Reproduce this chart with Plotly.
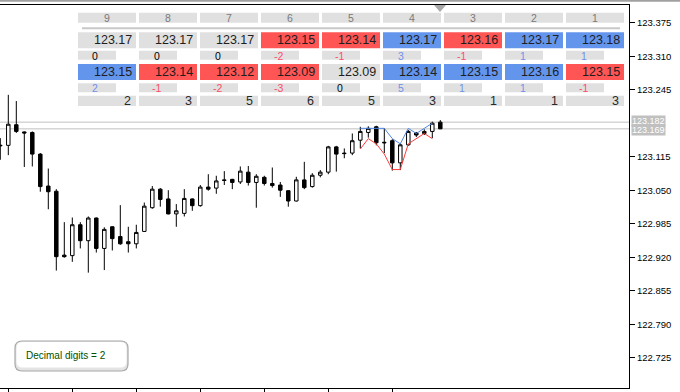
import plotly.graph_objects as go

# ---------------- data ----------------
opens = [123.136, 123.137, 123.177, 123.163, 123.162, 123.120, 123.058, 123.048, 122.924, 122.923,
         122.983, 122.952, 122.996, 122.937, 122.979, 122.960, 122.950, 122.946, 122.970, 123.016,
         123.052, 123.033, 123.004, 123.005, 123.033, 123.020, 123.056, 123.054, 123.070, 123.071,
         123.066, 123.085, 123.065, 123.075, 123.063, 123.060, 123.049, 123.029, 123.070, 123.057,
         123.079, 123.085, 123.134, 123.122, 123.122, 123.147, 123.162, 123.173, 123.143, 123.146,
         123.103, 123.138, 123.161, 123.160, 123.164, 123.182]
highs = [123.151, 123.235, 123.223, 123.164, 123.164, 123.122, 123.092, 123.052, 122.988, 122.997,
         122.988, 122.999, 122.997, 122.978, 122.980, 123.021, 122.979, 122.983, 123.026, 123.058,
         123.054, 123.050, 123.023, 123.052, 123.034, 123.060, 123.081, 123.078, 123.087, 123.072,
         123.096, 123.097, 123.081, 123.078, 123.094, 123.066, 123.050, 123.076, 123.105, 123.083,
         123.089, 123.136, 123.136, 123.131, 123.160, 123.173, 123.174, 123.175, 123.170, 123.149,
         123.141, 123.167, 123.163, 123.168, 123.183, 123.186]
lows = [123.109, 123.118, 123.161, 123.095, 123.096, 123.047, 123.013, 122.894, 122.919, 122.911,
        122.937, 122.890, 122.929, 122.895, 122.933, 122.944, 122.929, 122.937, 122.969, 123.014,
        123.018, 123.003, 122.979, 122.999, 123.010, 123.018, 123.049, 123.043, 123.060, 123.052,
        123.062, 123.059, 123.016, 123.059, 123.055, 123.037, 123.018, 123.028, 123.052, 123.055,
        123.075, 123.081, 123.086, 123.112, 123.118, 123.131, 123.152, 123.137, 123.122, 123.088,
        123.089, 123.136, 123.153, 123.157, 123.151, 123.169]
closes = [123.137, 123.178, 123.164, 123.161, 123.120, 123.057, 123.047, 122.921, 122.921, 122.983,
          122.952, 122.996, 122.937, 122.974, 122.956, 122.946, 122.946, 122.968, 123.019, 123.052,
          123.032, 123.004, 123.010, 123.034, 123.020, 123.056, 123.052, 123.068, 123.069, 123.065,
          123.087, 123.065, 123.077, 123.063, 123.059, 123.050, 123.029, 123.070, 123.055, 123.079,
          123.085, 123.134, 123.120, 123.121, 123.146, 123.164, 123.170, 123.142, 123.142, 123.103,
          123.138, 123.164, 123.157, 123.164, 123.180, 123.169]

ask_price = 123.182
bid_price = 123.169

# table, bars 9 .. 1 (bars back from the current bar)
bar_labels = ["9", "8", "7", "6", "5", "4", "3", "2", "1"]
high_vals = [123.17, 123.17, 123.17, 123.15, 123.14, 123.17, 123.16, 123.17, 123.18]
high_delta = [0, 0, 0, -2, -1, 3, -1, 1, 1]
low_vals = [123.15, 123.14, 123.12, 123.09, 123.09, 123.14, 123.15, 123.16, 123.15]
low_delta = [2, -1, -2, -3, 0, 5, 1, 1, -1]
range_vals = [2, 3, 5, 6, 5, 3, 1, 1, 3]

# rounded high / low lines, bars 10 .. 1
line_bars = [10, 9, 8, 7, 6, 5, 4, 3, 2, 1]
line_high = [123.17, 123.17, 123.17, 123.17, 123.15, 123.14, 123.17, 123.16, 123.17, 123.18]
line_low = [123.13, 123.15, 123.14, 123.12, 123.09, 123.09, 123.14, 123.15, 123.16, 123.15]

y_tick_vals = [123.375, 123.310, 123.245, 123.115, 123.050, 122.985, 122.920, 122.855, 122.790, 122.725]
y_tick_text = ["123.375", "123.310", "123.245", "123.115", "123.050", "122.985", "122.920",
               "122.855", "122.790", "122.725"]

info_text = "Decimal digits = 2"

# ---------------- geometry helpers (pixels -> paper) ----------------
W, H = 680, 392
ML, MR, MT, MB = 0, 51, 5, 4
PW = W - ML - MR
PH = H - MT - MB


def px(x):
    return (x - ML) / PW


def py(y):
    return (H - MB - y) / PH


n = len(opens)
xs = list(range(n))
bar_x = lambda b: n - 1 - b

RED = "#ff5555"
BLUE = "#6495ed"
GRAY = "#e0e0e0"


def box_color(d):
    return RED if d < 0 else (BLUE if d > 0 else GRAY)


def delta_color(d):
    return "#ff4d66" if d < 0 else ("#7090e8" if d > 0 else "#000000")


fig = go.Figure()

fig.add_trace(go.Candlestick(
    x=xs, open=opens, high=highs, low=lows, close=closes,
    increasing=dict(line=dict(color="black", width=1), fillcolor="white"),
    decreasing=dict(line=dict(color="black", width=1), fillcolor="black"),
    whiskerwidth=0, hoverinfo="skip", showlegend=False,
))

lx = [bar_x(b) for b in line_bars]
fig.add_trace(go.Scatter(x=lx, y=line_high, mode="lines",
                         line=dict(color="#4f86e6", width=1), hoverinfo="skip", showlegend=False))
fig.add_trace(go.Scatter(x=lx, y=line_low, mode="lines",
                         line=dict(color="#ff3b3b", width=1), hoverinfo="skip", showlegend=False))

shapes = []
annotations = []

# bid / ask lines
for p in (ask_price, bid_price):
    shapes.append(dict(type="line", xref="paper", yref="y", x0=0, x1=1, y0=p, y1=p,
                       line=dict(color="#c0c0c0", width=1), layer="below"))
for p, ys in ((ask_price, 1), (bid_price, -1)):
    annotations.append(dict(xref="paper", yref="y", x=1, y=p, xanchor="left", yanchor="middle",
                            xshift=2, yshift=ys, text=f"{p:.3f}", showarrow=False, bgcolor="#c0c0c0",
                            borderpad=0, font=dict(family="Liberation Sans", size=9, color="white")))

# window top border & shift marker
shapes.append(dict(type="line", xref="paper", yref="paper", x0=0, x1=px(W), y0=py(0.8), y1=py(0.8),
                   line=dict(color="#a0a0a0", width=2)))
shapes.append(dict(type="path", xref="paper", yref="paper",
                   path=f"M{px(434)},{py(5)} L{px(446)},{py(5)} L{px(440)},{py(12)} Z",
                   fillcolor="#a8a8a8", line=dict(width=0)))

# separator line of the table
shapes.append(dict(type="line", xref="paper", yref="paper", x0=px(82), x1=px(620), y0=py(28.3), y1=py(28.3),
                   line=dict(color="#c8c8c8", width=2)))

COL0, COLSTEP, COLW, DW = 78, 61, 58, 38


def rect(x0, y0, x1, y1, color):
    shapes.append(dict(type="rect", xref="paper", yref="paper", x0=px(x0), x1=px(x1),
                       y0=py(y1), y1=py(y0), fillcolor=color, line=dict(width=0), layer="above"))


def text(x, y, s, size, color, anchor):
    annotations.append(dict(xref="paper", yref="paper", x=px(x), y=py(y), xanchor=anchor,
                            yanchor="middle", text=s, showarrow=False, borderpad=0,
                            font=dict(family="Liberation Sans", size=size, color=color)))


for k in range(len(bar_labels)):
    left = COL0 + COLSTEP * k
    right = left + COLW
    rect(left, 12.7, right, 22.7, GRAY)
    text((left + right) / 2, 17.8, bar_labels[k], 10.5, "#7a7a7a", "center")

    rect(left, 32.3, right, 48.3, box_color(high_delta[k]))
    text(right - 3, 40.5, f"{high_vals[k]:.2f}", 12.5, "#1e1e1e", "right")
    rect(left, 50.7, left + DW, 59.7, GRAY)
    text(left + 17.5, 55.5, str(high_delta[k]), 10.5, delta_color(high_delta[k]), "center")

    rect(left, 64, right, 80, box_color(low_delta[k]))
    text(right - 3, 72.2, f"{low_vals[k]:.2f}", 12.5, "#1e1e1e", "right")
    rect(left, 83.3, left + DW, 92.3, GRAY)
    text(left + 17.5, 88, str(low_delta[k]), 10.5, delta_color(low_delta[k]), "center")

    rect(left, 95.7, right, 106, GRAY)
    text(right - 4, 101, str(range_vals[k]), 12.5, "#2a2a2a", "right")

# "Decimal digits" rounded box


def rounded_path(x0, y0, x1, y1, r):
    pts = [
        f"M{px(x0 + r)},{py(y0)}", f"L{px(x1 - r)},{py(y0)}", f"Q{px(x1)},{py(y0)} {px(x1)},{py(y0 + r)}",
        f"L{px(x1)},{py(y1 - r)}", f"Q{px(x1)},{py(y1)} {px(x1 - r)},{py(y1)}",
        f"L{px(x0 + r)},{py(y1)}", f"Q{px(x0)},{py(y1)} {px(x0)},{py(y1 - r)}",
        f"L{px(x0)},{py(y0 + r)}", f"Q{px(x0)},{py(y0)} {px(x0 + r)},{py(y0)}", "Z"]
    return " ".join(pts)


shapes.append(dict(type="path", xref="paper", yref="paper", path=rounded_path(15, 341, 128, 371, 7),
                   fillcolor="#e4e4e4", line=dict(color="#a8a8a8", width=1.2)))
shapes.append(dict(type="path", xref="paper", yref="paper", path=rounded_path(16.5, 342, 126.5, 367.5, 6),
                   fillcolor="#ffffff", line=dict(width=0)))
annotations.append(dict(xref="paper", yref="paper", x=px(24), y=py(355.5), xanchor="left", yanchor="middle",
                        text=info_text, showarrow=False,
                        font=dict(family="Liberation Sans Narrow, Liberation Sans", size=10, color="#005000")))

tick_x = list(range(1, n, 8))

fig.update_layout(
    width=W, height=H,
    margin=dict(l=ML, r=MR, t=MT, b=MB),
    paper_bgcolor="white", plot_bgcolor="white",
    showlegend=False, boxgap=0.38,
    shapes=shapes, annotations=annotations,
    xaxis=dict(range=[-0.0375, -0.0375 + PW / 8.0], showgrid=False, zeroline=False,
               rangeslider=dict(visible=False), showline=True, linecolor="black", linewidth=1,
               mirror=True, ticks="outside", ticklen=4, tickcolor="black", tickvals=tick_x,
               showticklabels=False, fixedrange=True),
    yaxis=dict(range=[122.6662, 123.4093], side="right", showgrid=False, zeroline=False,
               showline=True, linecolor="black", linewidth=1, ticks="outside", ticklen=5,
               tickcolor="black", tickvals=y_tick_vals, ticktext=y_tick_text,
               tickfont=dict(family="Liberation Sans", size=9.5, color="black"), fixedrange=True),
)

fig.write_html("out.html", config=dict(displayModeBar=False),
               post_script="document.body.style.margin='0';document.body.style.overflow='hidden';")
